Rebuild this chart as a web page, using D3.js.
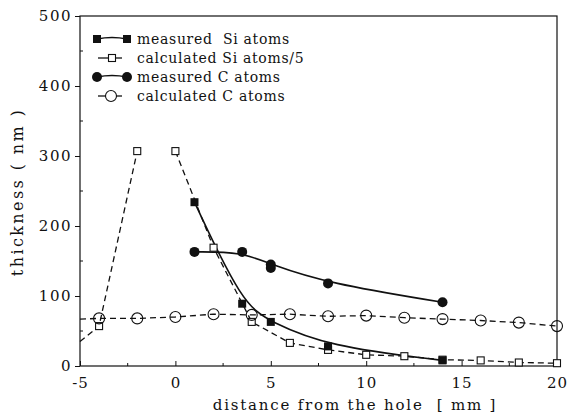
<!DOCTYPE html>
<html><head><meta charset="utf-8">
<script src="https://cdn.jsdelivr.net/npm/d3@7"></script>
<style>
body{margin:0;background:#fff;}
text{font-family:"DejaVu Serif",serif;fill:#111;}
</style></head>
<body><svg id="c" width="569" height="417"></svg>
<script>
// Data
const calcSiX = [-5, -4, -2, 0, 2, 4, 6, 8, 10, 12, 14, 16, 18, 20];
const calcSiY = [35, 57, 307, 307, 169, 63, 33, 23, 16, 14, 9, 8, 5, 4];
const calcSiMarker = [false, true, true, true, true, true, true, true, true, true, true, true, true, true];
const calcSiSegment = [0, 0, 0, 1, 1, 1, 1, 1, 1, 1, 1, 1, 1, 1];
const calcCX = [-5, -4, -2, 0, 2, 4, 6, 8, 10, 12, 14, 16, 18, 20];
const calcCY = [67, 68, 68, 70, 74, 73, 74, 71, 72, 69, 67, 65, 62, 57];
const calcCMarker = [false, true, true, true, true, true, true, true, true, true, true, true, true, true];
const measSiX = [1, 3.5, 5, 8, 14];
const measSiY = [234, 89, 63, 28, 8];
const measCX = [1, 3.5, 5, 5, 8, 14];
const measCY = [163, 163, 145, 140, 118, 91];
const xTicks = [-5, 0, 5, 10, 15, 20];
const xMinor = [-2.5, 2.5, 7.5, 12.5, 17.5];
const yTicks = [0, 100, 200, 300, 400, 500];
const yMinor = [50, 150, 250, 350, 450];
const legendLabels = ["measured  Si atoms", "calculated Si atoms/5", "measured C atoms", "calculated C atoms"];

const svg = d3.select("#c");
const L = 80, R = 557, T = 16, B = 366;
const x = d3.scaleLinear().domain([-5, 20]).range([L, R]);
const y = d3.scaleLinear().domain([0, 500]).range([B, T]);
const ink = "#111";

// frame
svg.append("rect").attr("x", L).attr("y", T).attr("width", R - L).attr("height", B - T)
  .attr("fill", "none").attr("stroke", ink).attr("stroke-width", 1.2);

// axes
const xAxis = d3.axisBottom(x).tickValues(xTicks).tickSizeInner(-5).tickSizeOuter(0).tickPadding(11)
  .tickFormat(d => d < 0 ? "-" + Math.abs(d) : d);
const gx = svg.append("g").attr("transform", `translate(0,${B})`).call(xAxis);
gx.select(".domain").remove();
gx.selectAll("line").attr("stroke", ink);
gx.selectAll("text").style("font-size", "15px").style("letter-spacing", "1px")
  .style("font-family", '"DejaVu Serif",serif').attr("fill", ink);
svg.append("g").selectAll("line").data(xMinor).join("line")
  .attr("x1", d => x(d)).attr("x2", d => x(d)).attr("y1", B).attr("y2", B - 3).attr("stroke", ink);

const yAxis = d3.axisLeft(y).tickValues(yTicks).tickSizeInner(5).tickSizeOuter(0).tickPadding(3);
const gy = svg.append("g").attr("transform", `translate(${L},0)`).call(yAxis);
gy.select(".domain").remove();
gy.selectAll("line").attr("stroke", ink);
gy.selectAll("text").style("font-size", "15px").style("letter-spacing", "1.5px")
  .style("font-family", '"DejaVu Serif",serif').attr("fill", ink);
svg.append("g").selectAll("line").data(yMinor).join("line")
  .attr("x1", L).attr("x2", L + 3).attr("y1", d => y(d)).attr("y2", d => y(d)).attr("stroke", ink);

// axis labels
svg.append("text").attr("x", 355).attr("y", 410).attr("text-anchor", "middle")
  .attr("xml:space", "preserve").style("white-space", "pre")
  .style("font-size", "15px").style("letter-spacing", "1.8px").text("distance from the hole  [ mm ]");
svg.append("text").attr("transform", `translate(23,192) rotate(-90)`).attr("text-anchor", "middle")
  .style("font-size", "16px").style("letter-spacing", "2.4px").text("thickness ( nm )");

// lines
const lineStraight = d3.line().x(d => x(d[0])).y(d => y(d[1]));
const lineSmooth = d3.line().x(d => x(d[0])).y(d => y(d[1])).curve(d3.curveBasis);

const cSi = calcSiX.map((v, i) => [v, calcSiY[i], calcSiMarker[i], calcSiSegment[i]]);
const cC = calcCX.map((v, i) => [v, calcCY[i], calcCMarker[i]]);
const mSi = measSiX.map((v, i) => [v, measSiY[i]]);
const mC = measCX.map((v, i) => [v, measCY[i]]);

const plot = svg.append("g");
d3.groups(cSi, d => d[3]).forEach(([k, seg]) => {
  plot.append("path").attr("d", lineStraight(seg)).attr("fill", "none").attr("stroke", ink)
    .attr("stroke-width", 1.3).attr("stroke-dasharray", "6,4");
});
plot.append("path").attr("d", lineStraight(cC)).attr("fill", "none").attr("stroke", ink)
  .attr("stroke-width", 1.3).attr("stroke-dasharray", "6,4");
plot.append("path").attr("d", lineSmooth(mSi)).attr("fill", "none").attr("stroke", ink).attr("stroke-width", 1.6);
const mCsmooth = mC.filter((d, i) => i !== 3);
plot.append("path").attr("d", lineSmooth(mCsmooth)).attr("fill", "none").attr("stroke", ink).attr("stroke-width", 1.6);

// markers
plot.selectAll(".cs").data(cSi.filter(d => d[2])).join("rect")
  .attr("x", d => x(d[0]) - 3.5).attr("y", d => y(d[1]) - 3.5).attr("width", 7).attr("height", 7)
  .attr("fill", "#fff").attr("stroke", ink).attr("stroke-width", 1.1);
plot.selectAll(".cc").data(cC.filter(d => d[2])).join("circle")
  .attr("cx", d => x(d[0])).attr("cy", d => y(d[1])).attr("r", 5.5)
  .attr("fill", "none").attr("stroke", ink).attr("stroke-width", 1.1);
plot.selectAll(".ms").data(mSi).join("rect")
  .attr("x", d => x(d[0]) - 4).attr("y", d => y(d[1]) - 4).attr("width", 8).attr("height", 8).attr("fill", ink);
plot.selectAll(".mc").data(mC).join("circle")
  .attr("cx", d => x(d[0])).attr("cy", d => y(d[1])).attr("r", 5).attr("fill", ink);

// legend
const lg = svg.append("g");
const rows = [39, 58, 77, 96];
legendLabels.forEach((lab, i) => {
  const yy = rows[i];
  if (i === 0 || i === 2) {
    lg.append("path").attr("d", `M97,${yy} Q112,${yy - 3} 127,${yy}`).attr("fill", "none").attr("stroke", ink).attr("stroke-width", 1.6);
    if (i === 0) {
      lg.append("rect").attr("x", 93).attr("y", yy - 4).attr("width", 8).attr("height", 8).attr("fill", ink);
      lg.append("rect").attr("x", 123).attr("y", yy - 4).attr("width", 8).attr("height", 8).attr("fill", ink);
    } else {
      lg.append("circle").attr("cx", 97).attr("cy", yy).attr("r", 5).attr("fill", ink);
      lg.append("circle").attr("cx", 127).attr("cy", yy).attr("r", 5).attr("fill", ink);
    }
  } else {
    lg.append("line").attr("x1", 98).attr("x2", 103).attr("y1", yy).attr("y2", yy).attr("stroke", ink).attr("stroke-width", 1.3);
    lg.append("line").attr("x1", 116).attr("x2", 122).attr("y1", yy).attr("y2", yy).attr("stroke", ink).attr("stroke-width", 1.3);
    lg.append("line").attr("x1", 103).attr("x2", 116).attr("y1", yy).attr("y2", yy).attr("stroke", ink).attr("stroke-width", 1.3);
    if (i === 1) {
      lg.append("rect").attr("x", 108.5).attr("y", yy - 3.5).attr("width", 7).attr("height", 7)
        .attr("fill", "#fff").attr("stroke", ink).attr("stroke-width", 1.1);
    } else {
      lg.append("circle").attr("cx", 111).attr("cy", yy).attr("r", 5.5)
        .attr("fill", "#fff").attr("stroke", ink).attr("stroke-width", 1.1);
    }
  }
  lg.append("text").attr("x", 137).attr("y", yy + 5).style("font-size", "14px").style("letter-spacing", "0.7px")
    .attr("xml:space", "preserve").style("white-space", "pre").text(lab);
});
</script></body></html>
